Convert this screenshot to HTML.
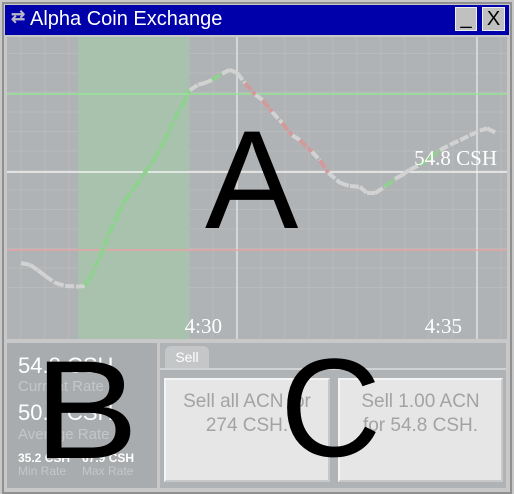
<!DOCTYPE html>
<html><head><meta charset="utf-8"><style>
body{margin:0;width:514px;height:494px;overflow:hidden;background:#c8c8c8;font-family:"Liberation Sans",sans-serif;position:relative}
.abs{position:absolute}
.btn{position:absolute;background:#e6e6e6;border:2px solid #f4f4f4;border-right-color:#c8c8c8;border-bottom-color:#c8c8c8;box-sizing:border-box;color:#a3a3a3;font-size:19px;text-align:center;line-height:24px;padding-top:10px}
.big{position:absolute;color:#000;font-size:136px;line-height:1}
</style></head><body>
<div class="abs" style="left:2px;top:2px;width:506px;height:488px;border:2px solid #909090;background:#c8c8c8"></div>
<div class="abs" style="left:5px;top:5px;width:504px;height:30px;background:#0000aa"></div>
<div class="abs" style="left:11px;top:7px;color:#b8b8c8;font-size:17px;font-weight:bold">⇄</div>
<div class="abs" style="left:30px;top:8px;color:#fff;font-size:20px">Alpha Coin Exchange</div>
<div class="abs" style="left:455px;top:7px;width:22px;height:24px;background:#c0c0c0;border:1px solid #eee;box-sizing:border-box;font-size:20px;text-align:center;line-height:20px">_</div>
<div class="abs" style="left:482px;top:7px;width:23px;height:24px;background:#c0c0c0;border:1px solid #eee;box-sizing:border-box;font-size:20px;text-align:center;line-height:22px">X</div>

<svg class="abs" style="left:7px;top:37px" width="500" height="302">
<g id="chart" transform="translate(-7,-37)"></g>
</svg>
<div class="big" style="left:205px;top:110px;font-size:140px">A</div>

<div class="abs" style="left:7px;top:343px;width:150px;height:145px;background:#a9acae"></div>
<div class="abs" style="left:18px;top:353px;color:#fff;font-size:22px">54.8 CSH</div>
<div class="abs" style="left:18px;top:378px;color:#c4c6c8;font-size:15px">Current Rate</div>
<div class="abs" style="left:18px;top:400px;color:#fff;font-size:22px">50.5 CSH</div>
<div class="abs" style="left:18px;top:426px;color:#c4c6c8;font-size:15px">Average Rate</div>
<div class="abs" style="left:18px;top:451px;color:#fff;font-size:12px;font-weight:bold">35.2 CSH</div>
<div class="abs" style="left:82px;top:451px;color:#fff;font-size:12px;font-weight:bold">67.9 CSH</div>
<div class="abs" style="left:18px;top:464px;color:#c4c6c8;font-size:12px">Min Rate</div>
<div class="abs" style="left:82px;top:464px;color:#c4c6c8;font-size:12px">Max Rate</div>
<div class="big" style="left:34px;top:340px;font-size:140px;transform:scaleX(1.12);transform-origin:left top">B</div>

<div class="abs" style="left:160px;top:343px;width:346px;height:145px;background:#b0b3b5"></div>
<div class="abs" style="left:165px;top:346px;width:44px;height:22px;background:#c4c6c8;border-radius:6px 6px 0 0;color:#fff;font-size:14px;text-align:center;line-height:22px">Sell</div>
<div class="abs" style="left:160px;top:368px;width:346px;height:2px;background:#d0d2d4"></div>
<div class="btn" style="left:164px;top:378px;width:166px;height:104px">Sell all ACN for<br>274 CSH.</div>
<div class="btn" style="left:338px;top:378px;width:165px;height:104px">Sell 1.00 ACN<br>for 54.8 CSH.</div>
<div class="big" style="left:280px;top:338px;font-size:140px">C</div>

<script>
const times=[25.5,25.69,25.85,26.0,26.21,26.42,26.69,26.83,26.94,27.15,27.35,27.52,27.67,27.88,28.08,28.29,28.5,28.71,28.88,29.02,29.19,29.33,29.48,29.69,29.85,30,30.17,30.38,30.54,30.73,30.94,31.15,31.31,31.56,31.73,31.9,32.15,32.35,32.56,32.71,32.88,33.08,33.29,33.44,33.6,33.81,34.02,34.23,34.44,34.65,34.85,35.06,35.21,35.4];
const prices=[43.1,42.9,42.2,41.5,40.6,40.2,40.1,40.2,41.2,44.0,47.1,49.4,51.2,52.9,54.7,56.6,58.9,61.7,63.6,65.3,66.0,66.2,66.6,67.4,67.9,67.5,66.2,64.7,64.0,62.5,61.1,59.5,58.9,57.4,56.3,54.7,53.4,53.0,52.9,52.1,52.1,52.9,53.9,54.4,55.1,55.7,56.6,57.6,58.3,58.9,59.5,60.1,60.4,59.8];
const tickTimes=[30,35];
const tickLabels=["4:30","4:35"];
const refPrices=[64.8,54.8,44.8];
const refColors=["#90ee90","#ffffff","#f0a0a0"];
const currentLabel="54.8 CSH";
const band=[26.69,29.0];
const X=t=>237+(t-30)*48;
const Y=p=>172-(p-54.8)*7.8;
const g=document.getElementById('chart');
const NS="http://www.w3.org/2000/svg";
function mk(tag,at){const e=document.createElementNS(NS,tag);for(const k in at)e.setAttribute(k,at[k]);g.appendChild(e);return e;}
const bg=mk('rect',{x:7,y:37,width:500,height:302,fill:'#b0b3b5'});


for(let t=25;t<=36;t+=0.5){const l=mk('line',{x1:X(t),x2:X(t),y1:37,y2:339,stroke:'#b8babc','stroke-width':1});

}
for(let p=40;p<=70;p+=2.5){const l=mk('line',{x1:7,x2:507,y1:Y(p),y2:Y(p),stroke:'#b8babc','stroke-width':1});

}
const br=mk('rect',{x:X(band[0]),y:37,width:X(band[1])-X(band[0]),height:302,fill:'#a9c2ad'});


tickTimes.forEach((t,i)=>{const l=mk('line',{x1:X(t),x2:X(t),y1:37,y2:339,stroke:'#d4d6d8','stroke-width':2});


const tx=mk('text',{x:X(t)-15,y:333,'text-anchor':'end',fill:'#fff','font-size':21,'font-family':'Liberation Serif,serif'});tx.textContent=tickLabels[i];

});
refPrices.forEach((p,i)=>{const l=mk('line',{x1:7,x2:507,y1:Y(p),y2:Y(p),stroke:refColors[i],'stroke-width':1.2});

});
for(let i=0;i<times.length-1;i++){const d=prices[i+1]-prices[i];
let c='#d2d2d2';if(d>0.8)c='#8fd18f';else if(d<-0.9&&i%2==0)c='#d49a9a';
const s=mk('line',{x1:X(times[i]),y1:Y(prices[i]),x2:X(times[i+1]),y2:Y(prices[i+1]),stroke:c,'stroke-width':4,'stroke-dasharray':'9 2'});

}
const cl=mk('text',{x:497,y:165,'text-anchor':'end',fill:'#fff','font-size':21,'font-family':'Liberation Serif,serif'});cl.textContent=currentLabel;


</script>
</body></html>
